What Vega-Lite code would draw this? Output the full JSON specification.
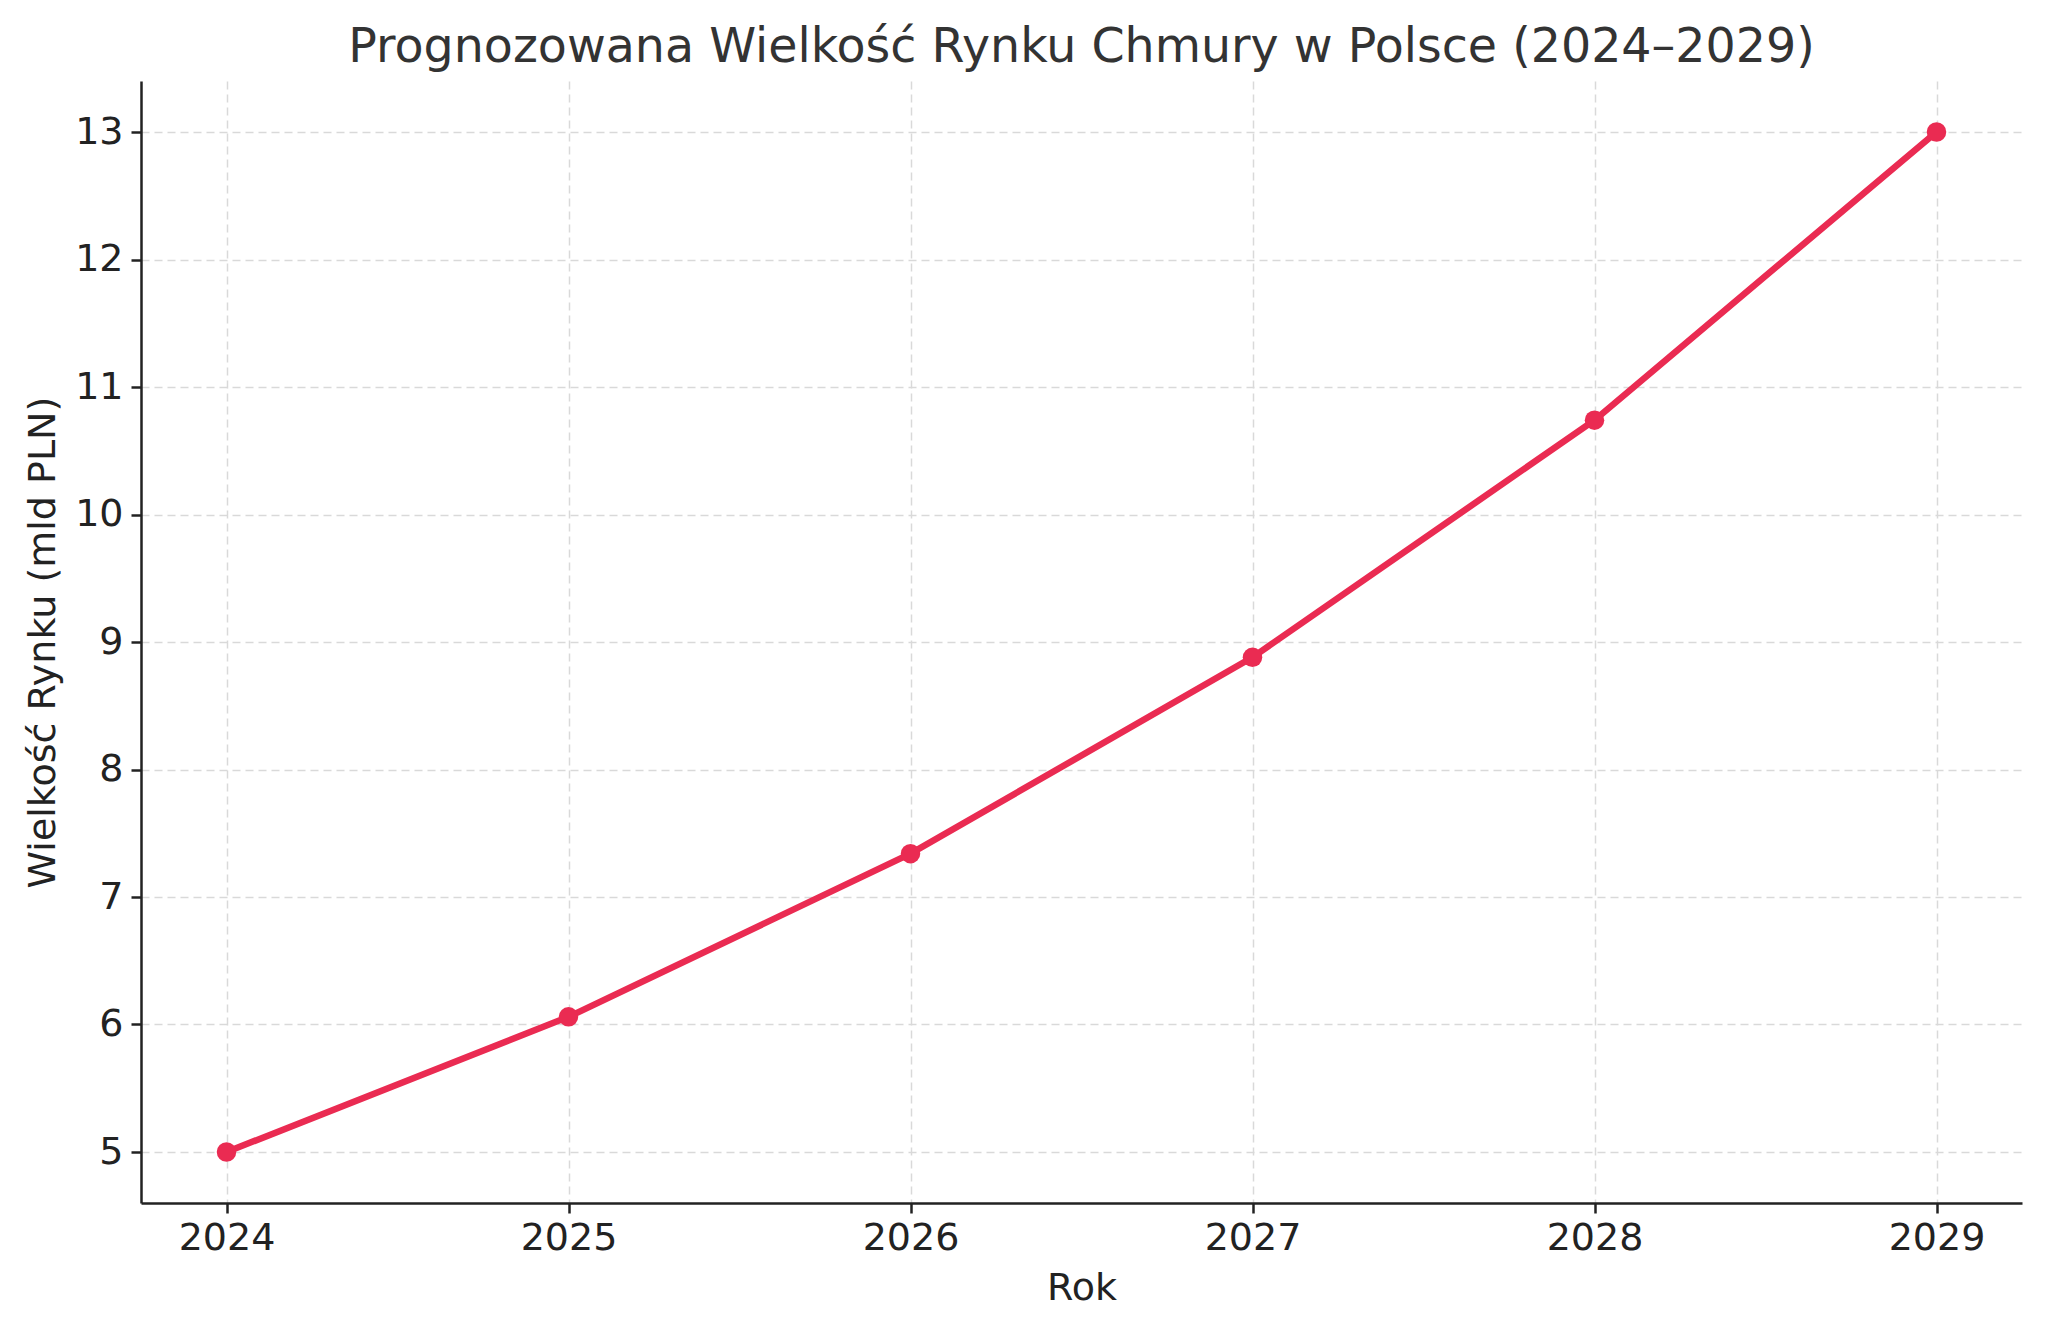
{
  "$schema": "https://vega.github.io/schema/vega-lite/v6.json",
  "autosize": {"type": "none"},
  "width": 1881,
  "height": 1122,
  "padding": {"left": 141, "top": 81, "right": 26, "bottom": 129},
  "background": "white",
  "title": {
    "text": "Prognozowana Wielkość Rynku Chmury w Polsce (2024–2029)",
    "font": "DejaVu Sans",
    "fontSize": 47.5,
    "fontWeight": "normal",
    "color": "#333333",
    "anchor": "middle",
    "offset": 10
  },
  "config": {
    "view": {"stroke": null},
    "axis": {
      "labelFont": "DejaVu Sans",
      "titleFont": "DejaVu Sans",
      "labelFontSize": 38,
      "titleFontSize": 38,
      "titleFontWeight": "normal",
      "labelColor": "#222222",
      "titleColor": "#222222",
      "domainColor": "#222222",
      "domainWidth": 2.5,
      "tickColor": "#222222",
      "tickWidth": 2.5,
      "tickSize": 10,
      "grid": true,
      "gridColor": "#d9d9d9",
      "gridDash": [8, 5],
      "gridWidth": 1.5
    }
  },
  "data": {
    "values": [
      {"Rok": 2024, "Wartosc": 5.0},
      {"Rok": 2025, "Wartosc": 6.06},
      {"Rok": 2026, "Wartosc": 7.34},
      {"Rok": 2027, "Wartosc": 8.88},
      {"Rok": 2028, "Wartosc": 10.74},
      {"Rok": 2029, "Wartosc": 13.0}
    ]
  },
  "encoding": {
    "x": {
      "field": "Rok",
      "type": "quantitative",
      "scale": {"domain": [2023.75, 2029.25], "nice": false, "zero": false},
      "axis": {"values": [2024, 2025, 2026, 2027, 2028, 2029], "format": "d", "title": "Rok", "labelPadding": 6, "titlePadding": 12}
    },
    "y": {
      "field": "Wartosc",
      "type": "quantitative",
      "scale": {"domain": [4.6, 13.4], "nice": false, "zero": false},
      "axis": {"values": [5, 6, 7, 8, 9, 10, 11, 12, 13], "title": "Wielkość Rynku (mld PLN)", "labelPadding": 8, "titlePadding": 12}
    }
  },
  "layer": [
    {"mark": {"type": "line", "color": "#ea2b52", "strokeWidth": 6.5}},
    {"mark": {"type": "point", "filled": true, "color": "#ea2b52", "size": 380, "opacity": 1}}
  ]
}
